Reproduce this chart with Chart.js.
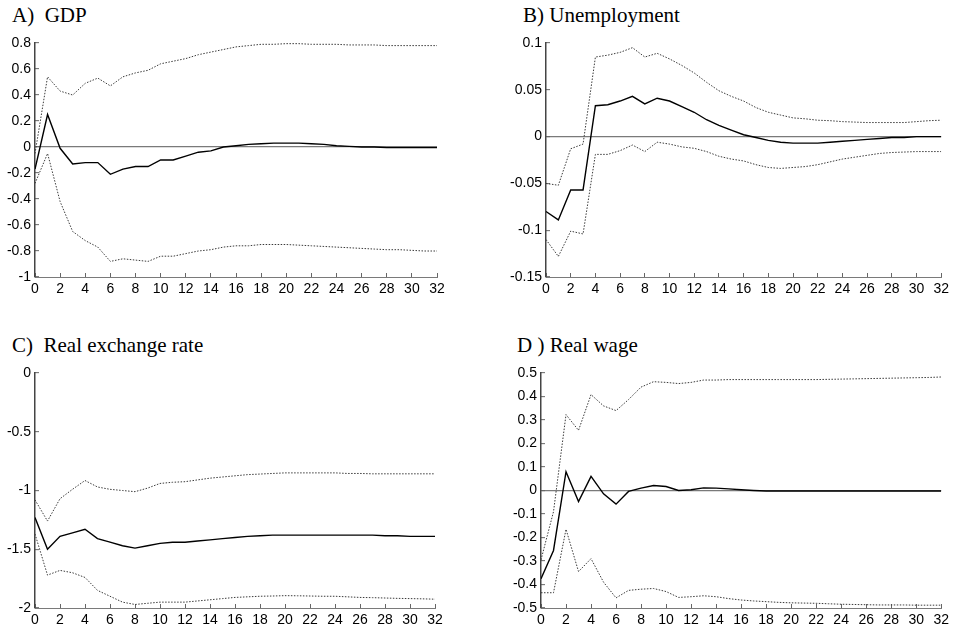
<!DOCTYPE html>
<html>
<head>
<meta charset="utf-8">
<script src="https://cdn.jsdelivr.net/npm/chart.js@4"></script>
<style>
  body { margin: 0; background: #fff; width: 957px; height: 631px; position: relative; overflow: hidden; }
  canvas { position: absolute; }
  .ttl { position: absolute; font-family: "Liberation Serif", "Times New Roman", serif; font-size: 21px; line-height: 21px; color: #000; white-space: pre; }
</style>
</head>
<body>
<div class="ttl" style="left:12px;top:5px">A)  GDP</div>
<div class="ttl" style="left:523px;top:5px">B) Unemployment</div>
<div class="ttl" style="left:12px;top:335px">C)  Real exchange rate</div>
<div class="ttl" style="left:517px;top:335px">D ) Real wage</div>
<canvas id="cA" width="478" height="300" style="left:0;top:0"></canvas>
<canvas id="cB" width="479" height="300" style="left:478px;top:0"></canvas>
<canvas id="cC" width="478" height="301" style="left:0;top:330px"></canvas>
<canvas id="cD" width="479" height="301" style="left:478px;top:330px"></canvas>
<script>
// quarters after the shock
const steps = [0,1,2,3,4,5,6,7,8,9,10,11,12,13,14,15,16,17,18,19,20,21,22,23,24,25,26,27,28,29,30,31,32];
const xTicks = [0,2,4,6,8,10,12,14,16,18,20,22,24,26,28,30,32];

// A) GDP
const gdp   = [-0.17,0.25,-0.01,-0.13,-0.12,-0.12,-0.21,-0.17,-0.15,-0.15,-0.10,-0.10,-0.07,-0.04,-0.03,0.00,0.01,0.02,0.025,0.03,0.03,0.03,0.025,0.02,0.01,0.005,0,0,-0.005,-0.005,-0.005,-0.005,-0.005];
const gdpUp = [-0.05,0.54,0.43,0.40,0.49,0.53,0.47,0.54,0.57,0.59,0.64,0.66,0.68,0.71,0.73,0.75,0.77,0.78,0.79,0.79,0.795,0.795,0.79,0.79,0.79,0.785,0.785,0.785,0.78,0.78,0.78,0.78,0.78];
const gdpLo = [-0.28,-0.05,-0.42,-0.65,-0.72,-0.77,-0.88,-0.86,-0.87,-0.88,-0.84,-0.84,-0.82,-0.80,-0.79,-0.77,-0.76,-0.76,-0.75,-0.75,-0.75,-0.755,-0.76,-0.765,-0.77,-0.775,-0.78,-0.785,-0.79,-0.79,-0.795,-0.80,-0.80];
const gdpTicks = [-1,-0.8,-0.6,-0.4,-0.2,0,0.2,0.4,0.6,0.8];

// B) Unemployment
const unemp   = [-0.08,-0.089,-0.057,-0.057,0.033,0.034,0.038,0.043,0.035,0.041,0.038,0.032,0.026,0.018,0.012,0.007,0.002,-0.001,-0.004,-0.006,-0.007,-0.007,-0.007,-0.006,-0.005,-0.004,-0.003,-0.002,-0.001,-0.001,0,0,0];
const unempUp = [-0.05,-0.052,-0.013,-0.008,0.085,0.087,0.09,0.095,0.085,0.089,0.083,0.076,0.068,0.058,0.049,0.043,0.038,0.031,0.026,0.023,0.02,0.019,0.0175,0.017,0.016,0.0155,0.015,0.015,0.015,0.015,0.016,0.017,0.0175];
const unempLo = [-0.11,-0.128,-0.101,-0.104,-0.019,-0.019,-0.015,-0.009,-0.016,-0.006,-0.008,-0.011,-0.0125,-0.016,-0.021,-0.024,-0.026,-0.03,-0.033,-0.034,-0.033,-0.032,-0.03,-0.027,-0.024,-0.022,-0.02,-0.018,-0.017,-0.0165,-0.016,-0.016,-0.016];
const unempTicks = [-0.15,-0.1,-0.05,0,0.05,0.1];

// C) Real exchange rate
const rer   = [-1.23,-1.50,-1.39,-1.36,-1.33,-1.41,-1.44,-1.47,-1.49,-1.47,-1.45,-1.44,-1.44,-1.43,-1.42,-1.41,-1.40,-1.39,-1.385,-1.38,-1.38,-1.38,-1.38,-1.38,-1.38,-1.38,-1.38,-1.38,-1.385,-1.385,-1.39,-1.39,-1.39];
const rerUp = [-1.08,-1.26,-1.07,-0.99,-0.915,-0.97,-0.99,-1.0,-1.01,-0.98,-0.94,-0.93,-0.925,-0.91,-0.895,-0.885,-0.875,-0.865,-0.86,-0.855,-0.85,-0.85,-0.85,-0.85,-0.85,-0.855,-0.855,-0.858,-0.858,-0.858,-0.858,-0.858,-0.858];
const rerLo = [-1.37,-1.72,-1.68,-1.70,-1.74,-1.85,-1.90,-1.95,-1.97,-1.96,-1.95,-1.95,-1.95,-1.94,-1.93,-1.92,-1.91,-1.905,-1.90,-1.898,-1.895,-1.896,-1.898,-1.90,-1.90,-1.905,-1.91,-1.912,-1.915,-1.918,-1.92,-1.922,-1.925];
const rerTicks = [-2,-1.5,-1,-0.5,0];

// D) Real wage
const wage   = [-0.375,-0.255,0.08,-0.047,0.06,-0.014,-0.058,-0.004,0.01,0.021,0.017,0.0,0.003,0.011,0.01,0.007,0.003,0.0,-0.002,-0.002,-0.002,-0.002,-0.002,-0.002,-0.002,-0.002,-0.002,-0.002,-0.002,-0.002,-0.002,-0.002,-0.002];
const wageUp = [-0.295,-0.09,0.323,0.256,0.408,0.36,0.34,0.387,0.44,0.463,0.46,0.455,0.46,0.47,0.47,0.472,0.472,0.472,0.472,0.472,0.472,0.472,0.472,0.473,0.474,0.475,0.476,0.477,0.478,0.479,0.48,0.481,0.483];
const wageLo = [-0.435,-0.435,-0.165,-0.345,-0.29,-0.39,-0.457,-0.425,-0.42,-0.417,-0.43,-0.455,-0.452,-0.448,-0.452,-0.46,-0.466,-0.47,-0.473,-0.476,-0.478,-0.479,-0.48,-0.482,-0.484,-0.485,-0.486,-0.487,-0.487,-0.487,-0.488,-0.488,-0.488];
const wageTicks = [-0.5,-0.4,-0.3,-0.2,-0.1,0,0.1,0.2,0.3,0.4,0.5];

const tickFont = { family: '"Liberation Sans", Arial, sans-serif', size: 14 };

function pts(vals) {
    return vals.map((v, i) => ({ x: steps[i], y: v }));
}

function makeChart(id, mid, up, lo, yTicks, opts) {
    const ctx = document.getElementById(id).getContext('2d');
    const band = { borderColor: '#3a3a3a', borderWidth: 1, borderDash: [1.5, 1.5], pointRadius: 0, tension: 0 };
    return new Chart(ctx, {
        type: 'line',
        data: {
            datasets: [
                { data: pts(up), ...band },
                { data: pts(lo), ...band },
                { data: pts(mid), borderColor: '#000', borderWidth: 1.4, pointRadius: 0, tension: 0 }
            ]
        },
        options: {
            responsive: false,
            animation: false,
            devicePixelRatio: 1,
            layout: { padding: { top: 43, right: opts.padRight, left: 0, bottom: 0 } },
            plugins: { legend: { display: false }, tooltip: { enabled: false } },
            scales: {
                x: {
                    type: 'linear', min: 0, max: 32,
                    afterBuildTicks: s => { s.ticks = xTicks.map(v => ({ value: v })); },
                    afterFit: s => { s.height = opts.xHeight; },
                    ticks: { color: '#000', font: tickFont, padding: 8, maxRotation: 0, autoSkip: false },
                    grid: { drawOnChartArea: false, tickLength: -4, tickColor: '#666', tickWidth: 1 },
                    border: { display: true, color: '#7a7a7a', width: 1 }
                },
                y: {
                    min: yTicks[0], max: yTicks[yTicks.length - 1],
                    afterBuildTicks: s => { s.ticks = yTicks.map(v => ({ value: v })); },
                    afterFit: s => { s.width = opts.yWidth; },
                    ticks: { color: '#000', font: tickFont, padding: 8, callback: v => String(v) },
                    grid: {
                        drawOnChartArea: opts.zeroLine,
                        color: c => (c.tick && c.tick.value === 0) ? '#7a7a7a' : 'rgba(0,0,0,0)',
                        lineWidth: 1.3,
                        tickLength: -4, tickColor: '#666', tickWidth: 1
                    },
                    border: { display: true, color: '#444', width: 1.5 }
                }
            }
        }
    });
}

makeChart('cA', gdp, gdpUp, gdpLo, gdpTicks, { yWidth: 35, padRight: 41, xHeight: 23, zeroLine: true });
makeChart('cB', unemp, unempUp, unempLo, unempTicks, { yWidth: 68, padRight: 14, xHeight: 23, zeroLine: true });
makeChart('cC', rer, rerUp, rerLo, rerTicks, { yWidth: 35, padRight: 43, xHeight: 23, zeroLine: false });
makeChart('cD', wage, wageUp, wageLo, wageTicks, { yWidth: 63, padRight: 14, xHeight: 23, zeroLine: true });
</script>
</body>
</html>
